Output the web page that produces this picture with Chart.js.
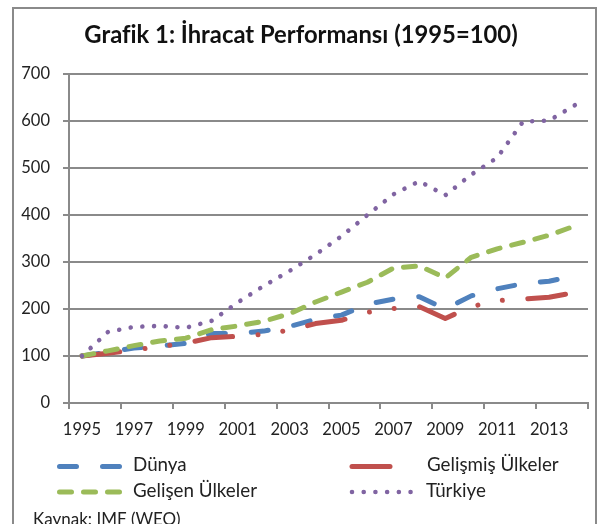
<!DOCTYPE html>
<html lang="tr">
<head>
<meta charset="utf-8">
<title>Grafik 1: İhracat Performansı (1995=100)</title>
<script src="https://cdn.jsdelivr.net/npm/chart.js@4.4.1/dist/chart.umd.min.js"></script>
<style>
  html, body { margin: 0; padding: 0; background: #fff; }
  #wrap { width: 600px; height: 524px; }
</style>
</head>
<body>
<div id="wrap"><canvas id="exportChart" width="600" height="524"></canvas></div>
<script>
// years on the category axis
const years = ["1995", "1996", "1997", "1998", "1999", "2000", "2001", "2002", "2003", "2004",
               "2005", "2006", "2007", "2008", "2009", "2010", "2011", "2012", "2013", "2014"];

// export index, 1995 = 100
const dunya     = [100, 108, 117, 121, 127, 148, 148, 153, 163, 178, 187, 210, 221, 226, 200, 228, 243, 254, 259, 271];
const gelismis  = [100, 106, 113, 120, 127, 139, 142, 146, 155, 169, 176, 193, 201, 205, 180, 205, 218, 221, 225, 235];
const gelisen   = [100, 111, 122, 132, 138, 156, 164, 174, 190, 215, 236, 257, 287, 292, 266, 310, 328, 342, 357, 377];
const turkiye   = [100, 151, 162, 164, 160, 175, 214, 249, 281, 316, 355, 400, 444, 472, 442, 486, 522, 599, 601, 634];

const seriesNames = ["Dünya", "Gelişmiş Ülkeler", "Gelişen Ülkeler", "Türkiye"];
const yTicks = [0, 100, 200, 300, 400, 500, 600, 700];

const gridGray = "#8a8a8a";
const fontFamily = "Lato, 'Open Sans', sans-serif";

// where each legend entry goes (sample line start/end, text x, row y)
const legendSpots = [
  { x0: 59.5, x1: 122.5, tx: 133, y: 466.5 },
  { x0: 352, x1: 396, tx: 427, y: 466.5 },
  { x0: 59.5, x1: 122.5, tx: 133, y: 492 },
  { x0: 352, x1: 414, tx: 426, y: 492 }
];

const extrasPlugin = {
  id: "extras",
  beforeDraw(chart) {
    const ctx = chart.ctx;
    ctx.save();
    ctx.fillStyle = "#fff";
    ctx.fillRect(0, 0, chart.width, chart.height);
    // outer frame of the excel chart
    ctx.strokeStyle = "#8a8a8a";
    ctx.lineWidth = 2;
    ctx.strokeRect(13, 8, 583, 540);
    ctx.restore();
  },
  afterDraw(chart) {
    const ctx = chart.ctx;
    ctx.save();
    chart.data.datasets.forEach((ds, i) => {
      const spot = legendSpots[i];
      ctx.beginPath();
      ctx.setLineDash(ds.borderDash);
      ctx.lineDashOffset = 0;
      ctx.lineCap = "round";
      ctx.strokeStyle = ds.borderColor;
      ctx.lineWidth = ds.borderWidth;
      ctx.moveTo(spot.x0, spot.y);
      ctx.lineTo(spot.x1, spot.y);
      ctx.stroke();
      ctx.setLineDash([]);
      ctx.fillStyle = "#222";
      ctx.font = "18.8px " + fontFamily;
      ctx.textBaseline = "middle";
      ctx.textAlign = "left";
      ctx.fillText(ds.label, spot.tx, spot.y - 1.5);
    });
    // source line
    ctx.font = "17px " + fontFamily;
    ctx.textBaseline = "alphabetic";
    ctx.fillStyle = "#222";
    ctx.fillText("Kaynak: IMF (WEO)", 33, 525);
    ctx.restore();
  }
};

function makeSet(label, data, color, dash, width, order) {
  return {
    label: label,
    data: data,
    borderColor: color,
    backgroundColor: color,
    borderWidth: width,
    borderDash: dash,
    borderCapStyle: "round",
    borderJoinStyle: "round",
    pointRadius: 0,
    pointHoverRadius: 0,
    tension: 0,
    fill: false,
    order: order
  };
}

let ctx = document.getElementById("exportChart").getContext("2d");
let exportChart = new Chart(ctx, {
  type: "line",
  data: {
    labels: years,
    datasets: [
      makeSet(seriesNames[0], dunya, "#4f81bd", [17, 26], 5, 3),
      makeSet(seriesNames[1], gelismis, "#c0504d", [38, 25.5, 0.01, 25, 0.01, 25.5], 5, 2),
      makeSet(seriesNames[2], gelisen, "#9bbb59", [12, 12], 5, 1),
      makeSet(seriesNames[3], turkiye, "#8064a2", [0.01, 11.7], 4.6, 0)
    ]
  },
  options: {
    responsive: false,
    animation: false,
    devicePixelRatio: 1,
    layout: {
      padding: { left: 14, right: 12, top: 0, bottom: 0 }
    },
    plugins: {
      legend: { display: false },
      tooltip: { enabled: false },
      title: {
        display: true,
        text: "Grafik 1: İhracat Performansı (1995=100)",
        color: "#111",
        font: { family: fontFamily, size: 23.8, weight: "bold", lineHeight: 1.2 },
        padding: { top: 21.5, bottom: 24 }
      }
    },
    scales: {
      x: {
        type: "category",
        offset: true,
        afterFit(scale) { scale.height = 121; },
        grid: {
          offset: true,
          drawOnChartArea: false,
          drawTicks: true,
          tickLength: 6,
          lineWidth: 2,
          color: (c) => (c.index === undefined || c.index % 2 === 0 ? gridGray : "rgba(0,0,0,0)")
        },
        border: { display: true, color: gridGray, width: 2 },
        ticks: {
          autoSkip: false,
          maxRotation: 0,
          padding: 11,
          color: "#222",
          font: { family: fontFamily, size: 16.5 },
          callback: function (value, index) {
            return index % 2 === 0 ? this.getLabelForValue(value) : "";
          }
        }
      },
      y: {
        min: 0,
        max: 700,
        afterFit(scale) { scale.width = 55; },
        afterBuildTicks(scale) { scale.ticks = yTicks.map((v) => ({ value: v })); },
        grid: {
          color: gridGray,
          lineWidth: 2,
          drawTicks: true,
          tickLength: 6
        },
        border: { display: true, color: gridGray, width: 2 },
        ticks: {
          padding: 13,
          color: "#222",
          font: { family: fontFamily, size: 16.5 }
        }
      }
    }
  },
  plugins: [extrasPlugin]
});
</script>
</body>
</html>
